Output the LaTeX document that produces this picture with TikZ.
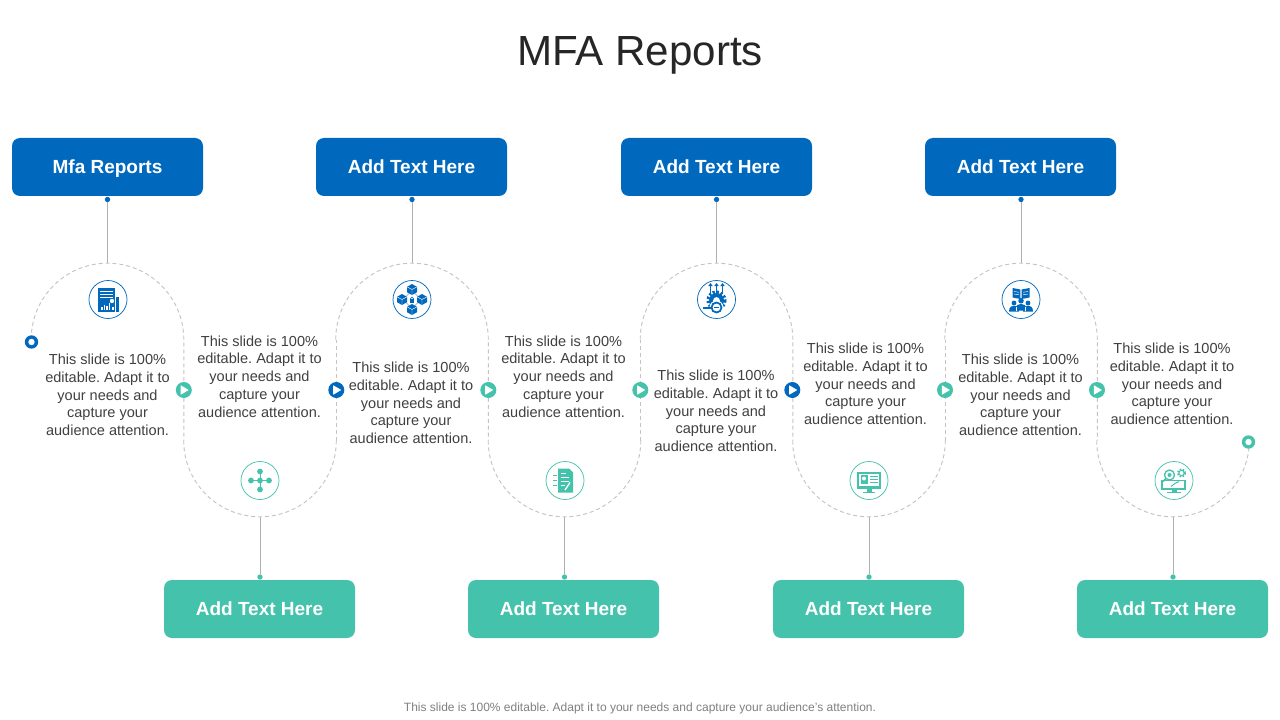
\documentclass[tikz,border=0pt]{standalone}
\usepackage{fontspec}
\setmainfont{Liberation Sans}
\frenchspacing
\definecolor{mblue}{HTML}{0069BE}
\definecolor{mteal}{HTML}{44C2AC}
\definecolor{mtext}{HTML}{404040}
\definecolor{mdash}{HTML}{C4C4C4}
\definecolor{mstem}{HTML}{B0B0B0}
\tikzset{
  x=0.75pt,y=-0.75pt,
  headbox/.style={rounded corners=6pt,minimum width=143.25pt,minimum height=43.5pt,inner sep=0pt,text=white,text height=10.2pt,text depth=0pt,font=\fontsize{14.25}{16}\selectfont\bfseries},
  bluebox/.style={headbox,fill=mblue},
  tealbox/.style={headbox,fill=mteal},
  bodytext/.style={text=mtext,align=center,inner sep=0pt,font=\fontsize{10.9}{13.3}\selectfont},
  trail/.style={draw=mdash,line width=0.7pt,dash pattern=on 3pt off 2.2pt},
  stem/.style={draw=mstem,line width=0.65pt},
  stemdot/.style={circle,inner sep=0pt,minimum size=4pt},
  iconring/.style={circle,draw,line width=0.55pt,fill=white,minimum size=28.5pt,inner sep=0pt},
  playmark/.style={circle,fill=#1,minimum size=12pt,inner sep=0pt},
  endring/.style={circle,fill=#1,minimum size=10pt,inner sep=0pt},
}
\begin{document}
\begin{tikzpicture}
\useasboundingbox (0,0) rectangle (1280,720);
\fill[white] (0,0) rectangle (1280,720);
% trail
\foreach \c/\n in {107.5/a,412/c,716.5/e,1021/g}{
  \draw[trail] (\c-76.3,339.5) .. controls (\c-76.3,297.4) and (\c-42.1,263.2) .. (\c,263.2) .. controls (\c+42.1,263.2) and (\c+76.3,297.4) .. (\c+76.3,339.5) -- (\c+76.3,440.5);
  \coordinate (arc\n) at (\c,263.2);
}
\foreach \c/\n in {260/b,564.5/d,869/f,1173/h}{
  \draw[trail] (\c-76.3,440.5) .. controls (\c-76.3,482.6) and (\c-42.1,516.8) .. (\c,516.8) .. controls (\c+42.1,516.8) and (\c+76.3,482.6) .. (\c+76.3,440.5);
  \coordinate (arc\n) at (\c,516.8);
}
\foreach \c in {336.3,640.8,945.3}{\draw[trail] (\c,440.5) -- (\c,339.5);}
% title
\node[text=black!85,font=\fontsize{31.6}{36}\selectfont,inner sep=0pt] (title) at (640,55.5) {MFA Reports};
% boxes
\node[bluebox] (boxa) at (107.5,167) {Mfa Reports};
\node[bluebox] (boxc) at (411.5,167) {Add Text Here};
\node[bluebox] (boxe) at (716.5,167) {Add Text Here};
\node[bluebox] (boxg) at (1020.5,167) {Add Text Here};
\node[tealbox] (boxb) at (259.5,609) {Add Text Here};
\node[tealbox] (boxd) at (563.5,609) {Add Text Here};
\node[tealbox] (boxf) at (868.5,609) {Add Text Here};
\node[tealbox] (boxh) at (1172.5,609) {Add Text Here};
% stems
\foreach \c/\n in {107.5/a,412/c,716.5/e,1021/g}{
  \node[stemdot,fill=mblue] (dot\n) at (\c,199.5) {};
  \draw[stem] (dot\n) -- (arc\n);
}
\foreach \c/\n in {260/b,564.5/d,869/f,1173/h}{
  \node[stemdot,fill=mteal] (dot\n) at (\c,577) {};
  \draw[stem] (arc\n) -- (dot\n);
}
% markers
\foreach \x/\col/\n in {183.8/mteal/1,336.3/mblue/2,488.3/mteal/3,640.3/mteal/4,792.3/mblue/5,945/mteal/6,1097/mteal/7}{
  \node[playmark=\col] (play\n) at (\x,390) {};
  \fill[white,rounded corners=0.4pt] (\x-3.2,385.2) -- (\x+5,390) -- (\x-3.2,394.8) -- cycle;
}
\node[endring=mblue] (startring) at (31.5,342) {};
\fill[white] (startring.center) circle (3.2);
\node[endring=mteal] (finishring) at (1248.5,442) {};
\fill[white] (finishring.center) circle (3.2);
% body text
\node[bodytext] (ta) at (107.5,395) {This slide is 100\%\\editable. Adapt it to\\your needs and\\capture your\\audience attention.};
\node[bodytext] (tb) at (259.5,376.5) {This slide is 100\%\\editable. Adapt it to\\your needs and\\capture your\\audience attention.};
\node[bodytext] (tc) at (411,403) {This slide is 100\%\\editable. Adapt it to\\your needs and\\capture your\\audience attention.};
\node[bodytext] (td) at (563.5,376.5) {This slide is 100\%\\editable. Adapt it to\\your needs and\\capture your\\audience attention.};
\node[bodytext] (te) at (716,411) {This slide is 100\%\\editable. Adapt it to\\your needs and\\capture your\\audience attention.};
\node[bodytext] (tf) at (865.5,384) {This slide is 100\%\\editable. Adapt it to\\your needs and\\capture your\\audience attention.};
\node[bodytext] (tg) at (1020.5,395) {This slide is 100\%\\editable. Adapt it to\\your needs and\\capture your\\audience attention.};
\node[bodytext] (th) at (1172,384) {This slide is 100\%\\editable. Adapt it to\\your needs and\\capture your\\audience attention.};
\node[text=black!50,inner sep=0pt,font=\fontsize{9}{11}\selectfont] (foot) at (640,708) {This slide is 100\% editable. Adapt it to your needs and capture your audience's attention.};
% icon rings
\node[iconring,draw=mblue] (icona) at (108,299.5) {};
\node[iconring,draw=mblue] (iconc) at (412,299.5) {};
\node[iconring,draw=mblue] (icone) at (716.5,299.5) {};
\node[iconring,draw=mblue] (icong) at (1021,299.5) {};
\node[iconring,draw=mteal] (iconb) at (260,480.5) {};
\node[iconring,draw=mteal] (icond) at (565,480.5) {};
\node[iconring,draw=mteal] (iconf) at (869,480.5) {};
\node[iconring,draw=mteal] (iconh) at (1174,480.5) {};
% icon a: report
\begin{scope}[shift={(108,299.5)}]
  \fill[mblue] (-10,-12) rectangle (7,12);
  \fill[mblue] (8,-3) rectangle (11,12);
  \foreach \y in {-9,-6,-3}{\fill[white] (-8,\y) rectangle (5,\y+1);}
  \fill[white] (4,1.5) circle (2.2);
  \foreach \h/\xx in {3/-7,5/-4.5,4/-2,7/0.5}{\fill[white] (\xx,10) rectangle (\xx+1.5,10-\h);}
  \fill[white] (4,7) rectangle (6,10);
\end{scope}
% icon c: cubes
\begin{scope}[shift={(412,299.5)}]
  \draw[mblue!55,line width=0.4pt] (0,-9) -- (-9,0) -- (0,9) -- (9,0) -- cycle;
  \foreach \a/\b in {0/-10,-10/0,10/0,0/10}{
    \fill[mblue] (\a,\b-5.5) -- (\a+5,\b-2.7) -- (\a+5,\b+2.7) -- (\a,\b+5.5) -- (\a-5,\b+2.7) -- (\a-5,\b-2.7) -- cycle;
    \draw[white,line width=0.35pt] (\a-5,\b-2.7) -- (\a,\b) -- (\a+5,\b-2.7) (\a,\b) -- (\a,\b+5.5);
  }
  \fill[mblue] (-2,-1) rectangle (2,3);
  \draw[mblue,line width=0.4pt] (0,-1) circle (1.4);
\end{scope}
% icon e: gear, arrows, magnifier
\begin{scope}[shift={(716.5,299.5)}]
  \foreach \xx in {-6,0,6}{
    \draw[mblue,line width=0.8pt] (\xx,-7) -- (\xx,-15);
    \fill[mblue] (\xx-2.2,-13.5) -- (\xx,-16.5) -- (\xx+2.2,-13.5) -- cycle;
  }
  \draw[mblue,line width=2.4pt,dash pattern=on 1.6pt off 1.4pt] (0,1) circle (8.5);
  \fill[mblue] (0,1) circle (7.5);
  \fill[white] (0,1) circle (3.4);
  \draw[white,line width=1.2pt,fill=white] (0,8) circle (6.2);
  \draw[mblue,line width=1.3pt] (0,8) circle (5);
  \draw[mblue,line width=1.1pt] (-2.5,8) -- (2.5,8);
  \draw[mblue,line width=1.5pt] (-5,8) -- (-14,8);
\end{scope}
% icon g: book and people
\begin{scope}[shift={(1021,299.5)}]
  \fill[mblue] (-8.5,-11.5) -- (-0.6,-10) -- (-0.6,-0.5) -- (-8.5,-2) -- cycle;
  \fill[mblue] (8.5,-11.5) -- (0.6,-10) -- (0.6,-0.5) -- (8.5,-2) -- cycle;
  \foreach \y in {-8,-5.5}{
    \draw[white,line width=0.35pt] (-7,\y) -- (-2,\y+0.8) (7,\y) -- (2,\y+0.8);
  }
  \foreach \a/\b/\s in {-7/5/1,7/5/1,0/3/1.15}{
    \fill[mblue] (\a,\b-1.5*\s) circle (2.4*\s);
    \fill[mblue] (\a-5*\s,\b+7*\s) .. controls (\a-5*\s,\b+2*\s) and (\a-2*\s,\b+1.2*\s) .. (\a,\b+1.2*\s) .. controls (\a+2*\s,\b+1.2*\s) and (\a+5*\s,\b+2*\s) .. (\a+5*\s,\b+7*\s) -- cycle;
  }
  \draw[white,line width=0.5pt] (-4.5,11) -- (-4.5,7) (4.5,11) -- (4.5,7);
\end{scope}
% icon b: node cross
\begin{scope}[shift={(260,480.5)}]
  \draw[mteal,line width=0.5pt] (-9,0) -- (9,0) (0,-9) -- (0,9);
  \foreach \a/\b in {0/-9,-9/0,0/0,9/0,0/9}{\fill[mteal] (\a,\b) circle (2.9);}
\end{scope}
% icon d: document and pen
\begin{scope}[shift={(565,480.5)}]
  \fill[mteal] (-7,-12) -- (4,-12) -- (8,-8) -- (8,12) -- (-7,12) -- cycle;
  \foreach \y/\w in {-7/4,-3/7,1/7,5/3}{\draw[white,line width=0.8pt] (-4.5,\y) -- (\w-3,\y);}
  \draw[white,line width=1pt] (0,9.5) -- (5,2);
  \draw[mteal,line width=0.5pt] (-12,-5) -- (-8.5,-5) (-12,0) -- (-8.5,0) (-12,5) -- (-8.5,5);
\end{scope}
% icon f: monitor with panels
\begin{scope}[shift={(869,480.5)}]
  \fill[mteal] (-12,-9) rectangle (12,8);
  \fill[white] (-10,-7) rectangle (10,5);
  \fill[mteal] (-8.5,-5.5) rectangle (-1.5,3.5);
  \fill[white] (-5,-2) circle (2);
  \foreach \y in {-4.5,-1.5,1.5}{\fill[mteal] (0.5,\y) rectangle (8.5,\y+1.4);}
  \fill[mteal] (-2.5,8) rectangle (2.5,11);
  \fill[mteal] (-6,11) rectangle (6,12.5);
\end{scope}
% icon h: monitor, magnifier, gear
\begin{scope}[shift={(1174,480.5)}]
  \fill[mteal] (-13,-1) rectangle (12,9);
  \fill[white] (-11,0.5) rectangle (10,7);
  \draw[mteal,line width=0.7pt] (-3,6) -- (1,3) -- (5,1);
  \fill[mteal] (-2.5,9) rectangle (2.5,11);
  \fill[mteal] (-7,11) rectangle (7,12.5);
  \draw[mteal,line width=1pt,fill=white] (-4.5,-5.5) circle (5);
  \fill[mteal] (-4.5,-5.5) circle (2);
  \draw[mteal,line width=1.3pt] (-8,-2) -- (-11,1);
  \draw[mteal,line width=1.6pt,dash pattern=on 1.2pt off 1pt] (7.5,-7.5) circle (3.6);
  \draw[mteal,line width=0.6pt] (7.5,-7.5) circle (2.6);
\end{scope}
\end{tikzpicture}
\end{document}
